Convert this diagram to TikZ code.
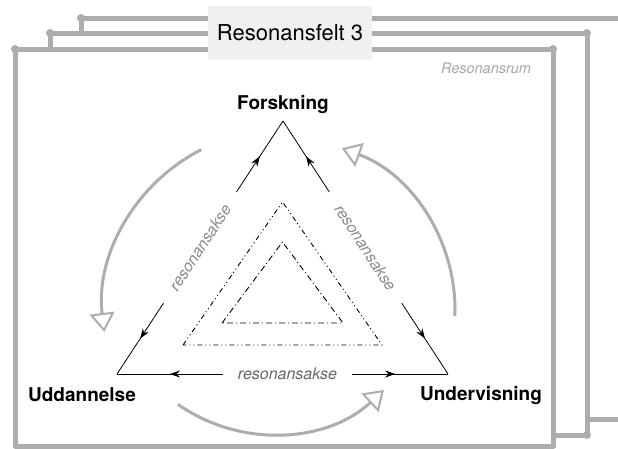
\documentclass[tikz,border=0pt]{standalone}
\usepackage{fontspec}
\setmainfont{TeX Gyre Heros}
\usetikzlibrary{calc}
\usetikzlibrary{arrows.meta}
\usetikzlibrary{decorations.markings}

\definecolor{framegray}{gray}{0.68}

\tikzset{
  fieldframe/.style={draw=framegray, line width=5pt, fill=white, line join=round},
  knob/.style={fill=framegray},
  resaxis/.style={line width=0.8pt, postaction={decorate},
    decoration={markings, mark=at position #1 with {\arrow{Stealth[length=10pt,width=7pt]}}}},
  resaxis/.default=0.5,
  cycle arrow/.style={draw=framegray, line width=3pt,
    -{Triangle[open,length=19pt,width=25pt,line width=2pt]}},
  pole/.style={font=\fontsize{19}{22}\selectfont\bfseries},
  axislabel/.style={font=\fontsize{16}{18}\selectfont\itshape, text=black!45},
  titlebox/.style={fill=black!6, minimum width=164pt, minimum height=54pt, inner sep=0pt,
    font=\fontsize{22}{26}\selectfont},
  roomlabel/.style={font=\fontsize{14.5}{17}\selectfont\itshape, text=black!35},
  outerdash/.style={line width=0.9pt, dash pattern=on 5pt off 3pt on 1pt off 3pt on 1pt off 3pt},
  innerdash/.style={line width=0.9pt, dash pattern=on 6pt off 3pt on 1pt off 3pt}
}

\begin{document}
\begin{tikzpicture}[x=1pt, y=1pt]
    \useasboundingbox (0,0) rectangle (618,-448);

    \draw[fieldframe] (81,-18) rectangle (660,-419);
    \fill[knob] (81,-18) circle (4pt);

    \draw[fieldframe] (50,-33) rectangle (587,-435);
    \fill[knob] (50,-33) circle (4pt);
    \fill[knob] (587,-33) circle (4pt);
    \fill[knob] (587,-435) circle (4pt);

    \draw[fieldframe] (15,-49) rectangle (553,-446);
    \fill[knob] (15,-49) circle (4pt);
    \fill[knob] (553,-49) circle (4pt);

    \node[titlebox] (title) at (290,-33) {Resonansfelt 3};
    \node[roomlabel] (room) at (486,-68) {Resonansrum};

    \coordinate (F) at (283,-121);
    \coordinate (U) at (117,-374);
    \coordinate (V) at (448,-374);

    \draw[resaxis] ($(U)!0.28!(F)$) -- (U);
    \draw[resaxis] ($(U)!0.72!(F)$) -- (F);
    \draw[resaxis] ($(V)!0.28!(F)$) -- (V);
    \draw[resaxis] ($(V)!0.72!(F)$) -- (F);
    \draw[resaxis] ($(U)!0.32!(V)$) -- (U);
    \draw[resaxis=0.45] ($(U)!0.71!(V)$) -- (V);

    \path (U) -- node[axislabel, sloped] (lblL) {resonansakse} (F);
    \path (F) -- node[axislabel, sloped] (lblR) {resonansakse} (V);
    \node[axislabel, text=black!60] (lblB) at ($(U)!0.515!(V)$) {resonansakse};

    \draw[outerdash] (183,-345) -- (282.5,-202) -- (382,-345) -- cycle;
    \draw[innerdash] (222,-323) -- (282.5,-242) -- (343,-323) -- cycle;

    \node[pole] (forskning) at (283,-104) {Forskning};
    \node[pole] (uddannelse) at (82,-395) {Uddannelse};
    \node[pole] (undervisning) at (481,-395) {Undervisning};

    \coordinate (M) at (283,-310);
    \coordinate (N) at (272,-270);
    \draw[cycle arrow] ($(M)+(117:180)$) arc[start angle=117, end angle=187, radius=180];
    \draw[cycle arrow] ($(N)+(235:164)$) arc[start angle=235, end angle=313, radius=164];
    \draw[cycle arrow] ($(M)+(-2:172)$) arc[start angle=-2, end angle=70, radius=172];
\end{tikzpicture}
\end{document}
